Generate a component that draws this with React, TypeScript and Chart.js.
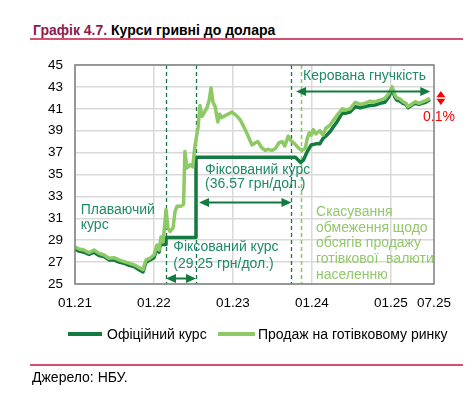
import React, { useEffect, useRef } from "react";
import { Chart, registerables } from "chart.js";

Chart.register(...registerables);

// ---------- data ----------
const xTickMonths = [0, 12, 24, 36, 48, 54.56];
const xTickLabels = ["01.21", "01.22", "01.23", "01.24", "01.25", "07.25"];
const yMin = 25;
const yMax = 45;
const yStep = 2;

// months since 01.2021
const cashMonths = [
  0, 0.6, 1.37, 2.13, 2.89, 3.65, 4.41, 5.17, 5.93, 6.69, 7.45, 8.21, 8.97, 9.73, 10.33, 10.79,
  11.4, 12.0, 12.46, 12.77, 13.07, 13.37, 13.68, 13.83, 14.13, 14.44, 14.89, 15.2, 15.5, 16.1,
  16.5, 16.7, 17.0, 17.5, 17.9, 18.2, 18.7, 19.0, 19.3, 19.6, 20.06, 20.4, 20.67, 20.97, 21.3,
  21.7, 22.0, 22.3, 22.9, 23.86, 24.5, 25.1, 25.7, 26.1, 26.6, 26.9, 27.4, 27.8, 28.3, 28.9,
  29.3, 29.9, 30.5, 31.0, 31.5, 31.9, 32.4, 32.8, 33.4, 34.0, 34.5, 35.0, 35.3, 35.6, 35.9,
  36.2, 36.6, 37.2, 37.7, 38.1, 38.75, 39.2, 39.7, 40.1, 40.6, 41.2, 41.8, 42.6, 43.3, 44.1,
  44.8, 45.6, 46.35, 47.1, 47.7, 48.2, 48.6, 48.9, 49.4, 49.85, 50.3, 50.6, 51.1, 51.7, 52.3,
  52.7, 53.3, 53.95,
];
const cashValues = [
  28.4, 28.2, 28.1, 27.85, 28.1, 27.8, 27.65, 27.35, 27.4, 27.2, 27.05, 26.9, 26.75, 26.5, 26.3, 27.2,
  27.35, 27.65, 28.55, 28.1, 29.3, 28.85, 30.7, 31.8, 30.1, 29.8, 30.1, 31.6, 32.1, 32.1,
  32.3, 37.1, 35.6, 35.9, 35.7, 37.5, 39.3, 41.3, 40.3, 40.6, 41.1, 41.8, 42.9, 41.6, 41.2,
  39.8, 40.5, 40.2, 40.4, 40.7, 40.4, 40.0, 39.3, 38.8, 38.1, 37.7, 37.9, 38.0, 37.5, 37.2,
  37.3, 37.2, 37.4, 37.9, 38.0, 37.6, 38.5, 38.1, 37.8, 37.4, 37.2, 37.4, 38.3, 38.8, 38.6,
  39.1, 38.7, 39.0, 38.6, 39.2, 39.5, 39.9, 40.3, 40.6, 41.0, 40.9, 41.0, 41.6, 41.4, 41.5,
  41.7, 41.65, 41.8, 41.95, 42.4, 43.0, 42.3, 42.0, 41.9, 41.65, 41.5, 41.2, 41.4, 41.65, 41.5,
  41.6, 41.75, 41.95,
];

const officialMonths = [
  0, 0.6, 1.37, 2.13, 2.89, 3.65, 4.41, 5.17, 5.93, 6.69, 7.45, 8.21, 8.97, 9.73, 10.33, 10.79,
  11.4, 12.0, 12.46, 12.77, 13.07, 13.37, 13.83, 13.83, 18.39, 18.39, 33.5, 34.3, 34.7,
  35.3, 35.9, 36.6, 37.2, 37.7, 38.1, 38.75, 39.2, 39.7, 40.1, 40.6, 41.2, 41.8, 42.6, 43.3,
  44.1, 44.8, 45.6, 46.35, 47.1, 47.7, 48.2, 48.6, 48.9, 49.4, 49.85, 50.3, 50.6, 51.1, 51.7,
  52.3, 52.7, 53.3, 53.95,
];
const officialValues = [
  28.2, 28.0, 27.9, 27.7, 27.9, 27.6, 27.5, 27.2, 27.2, 27.0, 26.9, 26.7, 26.6, 26.3, 26.1, 27.0,
  27.2, 27.4, 28.3, 27.9, 28.9, 28.6, 28.6, 29.25, 29.25, 36.57, 36.57, 36.1, 36.3,
  37.1, 37.7, 37.8, 37.8, 38.3, 38.5, 38.9, 39.3, 39.7, 40.1, 40.6, 40.6, 40.7, 41.2, 41.1,
  41.2, 41.3, 41.35, 41.5, 41.6, 42.1, 42.8, 42.1, 41.8, 41.7, 41.5, 41.4, 41.1, 41.3, 41.5,
  41.4, 41.5, 41.6, 41.85,
];

const regimeChangeMonths = [13.87, 18.35, 32.83];
const cashLimitMonth = 34.35;

// ---------- styles ----------
const DARK = "#137a40";
const LIGHT = "#8dc965";
const TEAL = "#1f8a6a";
const FONT = "'Liberation Sans', Arial, sans-serif";

const annotationPlugin = {
  id: "annotations",
  beforeDatasetsDraw(chart: any) {
    const { ctx, chartArea, scales } = chart;
    const xs = scales.x;
    ctx.save();
    ctx.lineWidth = 1.3;
    ctx.setLineDash([4, 3]);
    ctx.strokeStyle = DARK;
    for (const m of regimeChangeMonths) {
      const px = Math.round(xs.getPixelForValue(m)) + 0.5;
      ctx.beginPath();
      ctx.moveTo(px, chartArea.top);
      ctx.lineTo(px, chartArea.bottom);
      ctx.stroke();
    }
    ctx.strokeStyle = LIGHT;
    ctx.lineWidth = 1.6;
    const lx = Math.round(xs.getPixelForValue(cashLimitMonth)) + 0.5;
    ctx.beginPath();
    ctx.moveTo(lx, chartArea.top);
    ctx.lineTo(lx, chartArea.bottom);
    ctx.stroke();
    ctx.restore();
  },
  afterDraw(chart: any) {
    const { ctx, chartArea, scales } = chart;
    const xs = scales.x;
    const ys = scales.y;
    const X = (m: number) => xs.getPixelForValue(m);
    const Y = (v: number) => ys.getPixelForValue(v);
    ctx.save();
    // plot border
    ctx.strokeStyle = "#7f7f7f";
    ctx.lineWidth = 1.5;
    ctx.strokeRect(chartArea.left, chartArea.top, chartArea.right - chartArea.left, chartArea.bottom - chartArea.top);

    // arrows
    const arrow = (m1: number, m2: number, v: number) => {
      const x1 = X(m1), x2 = X(m2), y = Math.round(Y(v)) + 0.5;
      const hl = 10, hw = 4.5;
      ctx.strokeStyle = DARK;
      ctx.fillStyle = DARK;
      ctx.lineWidth = 2;
      ctx.beginPath();
      ctx.moveTo(x1 + hl - 1, y);
      ctx.lineTo(x2 - hl + 1, y);
      ctx.stroke();
      ctx.beginPath();
      ctx.moveTo(x1, y);
      ctx.lineTo(x1 + hl, y - hw);
      ctx.lineTo(x1 + hl, y + hw);
      ctx.closePath();
      ctx.fill();
      ctx.beginPath();
      ctx.moveTo(x2, y);
      ctx.lineTo(x2 - hl, y - hw);
      ctx.lineTo(x2 - hl, y + hw);
      ctx.closePath();
      ctx.fill();
    };
    arrow(13.83, 18.39, 25.55);
    arrow(18.85, 32.9, 32.5);
    arrow(33.6, 54.0, 42.6);

    // texts
    ctx.font = `14px ${FONT}`;
    ctx.textAlign = "left";
    ctx.textBaseline = "middle";
    const text = (s: string, m: number, v: number, color: string) => {
      ctx.fillStyle = color;
      ctx.fillText(s, X(m), Y(v));
    };
    text("Керована гнучкість", 34.65, 44.02, TEAL);
    text("Плаваючий", 0.87, 31.76, TEAL);
    text("курс", 0.87, 30.39, TEAL);
    text("Фіксований курс", 14.94, 28.35, TEAL);
    text("(29.25 грн/дол.)", 14.94, 26.8, TEAL);
    text("Фіксований курс", 19.76, 35.41, TEAL);
    text("(36.57 грн/дол.)", 19.76, 34.1, TEAL);
    const lg = "#93c86c";
    text("Скасування", 36.63, 31.6, lg);
    text("обмеження щодо", 36.63, 30.14, lg);
    text("обсягів продажу", 36.63, 28.7, lg);
    text("готівкової  валюти", 36.63, 27.28, lg);
    text("населенню", 36.63, 25.82, lg);
    text("0.1%", 52.9, 40.28, "#ff0000");

    // red up/down marker
    const mx = X(55.6), my = Y(41.99);
    ctx.fillStyle = "#ff0000";
    ctx.beginPath();
    ctx.moveTo(mx, my - 7);
    ctx.lineTo(mx + 4.5, my - 0.8);
    ctx.lineTo(mx - 4.5, my - 0.8);
    ctx.closePath();
    ctx.fill();
    ctx.beginPath();
    ctx.moveTo(mx, my + 7);
    ctx.lineTo(mx + 4.5, my + 0.8);
    ctx.lineTo(mx - 4.5, my + 0.8);
    ctx.closePath();
    ctx.fill();
    ctx.restore();
  },
};

export default function App() {
  const ref = useRef<HTMLCanvasElement | null>(null);

  useEffect(() => {
    if (!ref.current) return;
    const cash = cashMonths.map((m, i) => ({ x: m, y: cashValues[i] }));
    const official = officialMonths.map((m, i) => ({ x: m, y: officialValues[i] }));
    const yTicks: number[] = [];
    for (let v = yMin; v <= yMax; v += yStep) yTicks.push(v);

    const chart = new Chart(ref.current, {
      type: "line",
      data: {
        datasets: [
          {
            label: "Продаж на готівковому ринку",
            data: cash,
            borderColor: LIGHT,
            backgroundColor: LIGHT,
            borderWidth: 3.5,
            pointRadius: 0,
            tension: 0,
            borderJoinStyle: "round",
          },
          {
            label: "Офіційний курс",
            data: official,
            borderColor: DARK,
            backgroundColor: DARK,
            borderWidth: 3.5,
            pointRadius: 0,
            tension: 0,
            borderJoinStyle: "round",
          },
        ],
      },
      options: {
        responsive: false,
        animation: false,
        devicePixelRatio: 1,
        layout: { padding: { left: 0, top: 65, right: 42, bottom: 0 } },
        plugins: { legend: { display: false }, tooltip: { enabled: false } },
        scales: {
          x: {
            type: "linear",
            min: 0,
            max: xTickMonths[xTickMonths.length - 1],
            afterBuildTicks: (s: any) => {
              s.ticks = xTickMonths.map((v) => ({ value: v }));
            },
            afterFit: (s: any) => {
              s.height = 112;
            },
            ticks: {
              autoSkip: false,
              maxRotation: 0,
              padding: 11,
              color: "#000",
              font: { family: FONT, size: 13.5 },
              callback: (v: any, i: number) => xTickLabels[i],
            },
            grid: {
              drawTicks: false,
              lineWidth: 1.5,
              color: (c: any) => (c.index === xTickMonths.length - 1 ? "rgba(0,0,0,0)" : "#d9d9d9"),
            },
            border: { display: false },
          },
          y: {
            type: "linear",
            min: yMin,
            max: yMax,
            afterBuildTicks: (s: any) => {
              s.ticks = yTicks.map((v) => ({ value: v }));
            },
            afterFit: (s: any) => {
              s.width = 75;
            },
            ticks: {
              padding: 12,
              color: "#000",
              font: { family: FONT, size: 13.5 },
            },
            grid: { drawTicks: false, lineWidth: 1.5, color: "#d9d9d9" },
            border: { display: false },
          },
        },
      },
      plugins: [annotationPlugin],
    } as any);
    return () => chart.destroy();
  }, []);

  const abs = (o: React.CSSProperties): React.CSSProperties => ({ position: "absolute", ...o });
  const txt: React.CSSProperties = { fontFamily: FONT, fontSize: 14, lineHeight: "16px", whiteSpace: "nowrap", color: "#000" };

  return (
    <div style={{ position: "fixed", left: 0, top: 0, width: 476, height: 396, background: "#fff", overflow: "hidden" }}>
      <div style={abs({ ...txt, left: 33, top: 22, fontWeight: "bold" })}>
        <span style={{ color: "#8c1a4b" }}>Графік 4.7.</span> Курси гривні до долара
      </div>
      <div style={abs({ left: 30, top: 38, width: 433, height: 2, background: "#d4506c" })} />
      <canvas ref={ref} width={476} height={396} style={abs({ left: 0, top: 0, width: 476, height: 396 })} />
      <div style={abs({ left: 68, top: 332, width: 34, height: 4, background: DARK })} />
      <div style={abs({ ...txt, left: 107, top: 326 })}>Офіційний курс</div>
      <div style={abs({ left: 218, top: 332, width: 37, height: 4, background: LIGHT })} />
      <div style={abs({ ...txt, left: 258, top: 326 })}>Продаж на готівковому ринку</div>
      <div style={abs({ left: 30, top: 364, width: 433, height: 2, background: "#d4506c" })} />
      <div style={abs({ ...txt, left: 32, top: 369 })}>Джерело: НБУ.</div>
    </div>
  );
}
